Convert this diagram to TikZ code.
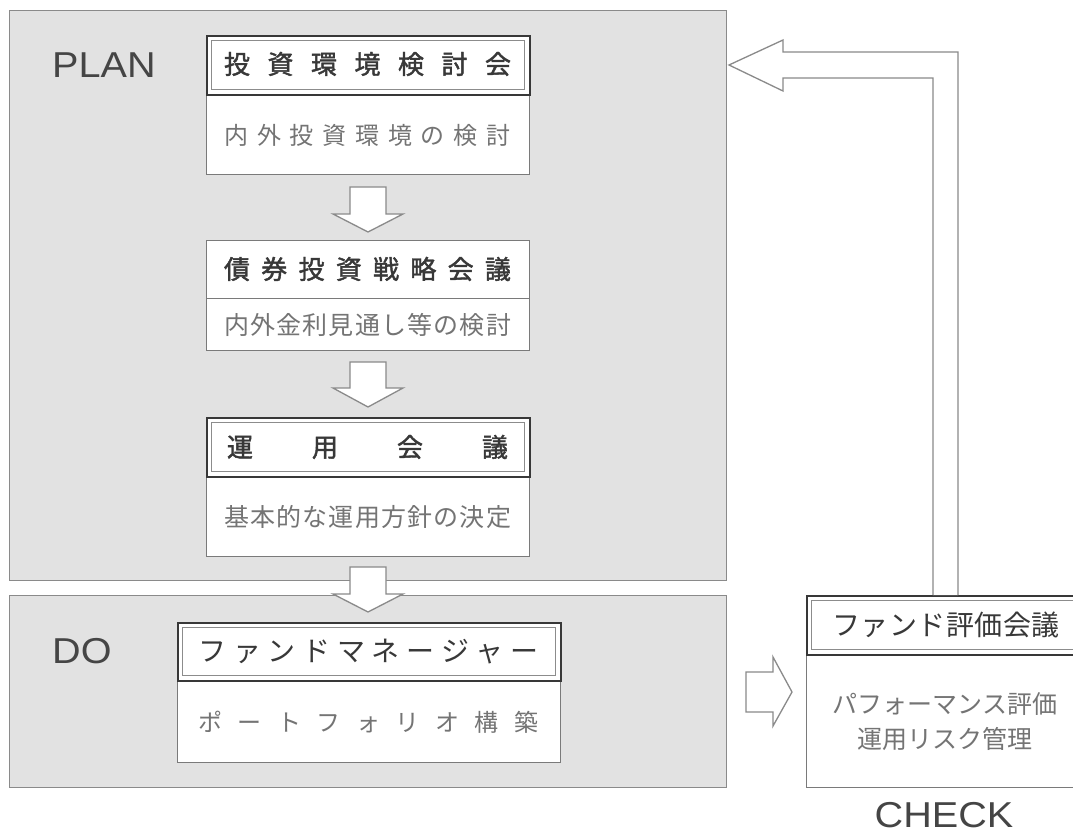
\documentclass[tikz,border=0pt]{standalone}
\usepackage{fontspec}
\setmainfont{Liberation Sans}
\newfontfamily\lbl[FakeStretch=1.1]{Liberation Sans}
\newfontfamily\jp{Noto Sans CJK JP}
\newfontfamily\jpb[FakeBold=1.6]{Noto Sans CJK JP}
\definecolor{panelfill}{HTML}{E2E2E2}
\definecolor{panelline}{HTML}{8A8A8A}
\definecolor{boxline}{HTML}{7A7A7A}
\definecolor{dark}{HTML}{383838}
\definecolor{innerline}{HTML}{8C8C8C}
\definecolor{desc}{HTML}{747474}
\definecolor{label}{HTML}{454545}
\newcommand\spread[2]{\makebox[#1]{#2}}
\tikzset{
  panel/.style={draw=panelline, fill=panelfill, line width=1.4pt, inner sep=0pt, anchor=north west},
  body/.style={draw=boxline, fill=white, line width=1.2pt, inner sep=0pt, anchor=north west},
  titleouter/.style={draw=dark, line width=2.4pt, inner sep=0pt, anchor=north west},
  titleinner/.style={draw=innerline, line width=0.9pt},
  plainband/.style={draw=boxline, line width=1.2pt, inner sep=0pt, anchor=north west},
  blockarrow/.style={draw=panelline, fill=white, line width=1.3pt, line join=miter},
  phase/.style={inner sep=0pt, text=label, font=\lbl\fontsize{36}{40}\selectfont},
  ttlb/.style={inner sep=0pt, text=dark, font=\jpb\fontsize{26}{30}\selectfont},
  ttl/.style={inner sep=0pt, text=dark, font=\jp\fontsize{28}{32}\selectfont},
  dsc/.style={inner sep=0pt, text=desc, font=\jp\fontsize{24}{28}\selectfont},
  dscw/.style={inner sep=0pt, text=desc, font=\jp\fontsize{25}{35}\selectfont, align=center},
}
\begin{document}
\begin{tikzpicture}[x=1pt,y=-1pt]
\useasboundingbox (0,0) rectangle (1073,834);
\clip (0,0) rectangle (1073,834);
\fill[white] (0,0) rectangle (1073,834);

% panels
\node[panel, minimum width=717pt, minimum height=570pt] (plan) at (9,10) {};
\node[panel, minimum width=717pt, minimum height=192pt] (do) at (9,595) {};

\node[phase, anchor=west] (planlbl) at (52,65) {PLAN};
\node[phase, anchor=west] (dolbl) at (52,651) {DO};

% box 1
\node[body, minimum width=323pt, minimum height=139pt] (b1) at (206,35) {};
\node[titleouter, minimum width=323pt, minimum height=59pt] (t1) at (206,35) {};
\draw[titleinner] (211,40) rectangle (524,89);
\node[ttlb] (t1txt) at (367.5,64) {\spread{287pt}{投\hfill 資\hfill 環\hfill 境\hfill 検\hfill 討\hfill 会}};
\node[dsc] (d1txt) at (367.5,135) {\spread{286pt}{内\hfill 外\hfill 投\hfill 資\hfill 環\hfill 境\hfill の\hfill 検\hfill 討}};

% box 2
\node[body, minimum width=323pt, minimum height=110pt] (b2) at (206,240) {};
\node[plainband, minimum width=323pt, minimum height=58pt] (t2) at (206,240) {};
\node[ttlb] (t2txt) at (367.5,269) {\spread{287pt}{債\hfill 券\hfill 投\hfill 資\hfill 戦\hfill 略\hfill 会\hfill 議}};
\node[dscw] (d2txt) at (367.5,325) {\spread{287pt}{内\hfill 外\hfill 金\hfill 利\hfill 見\hfill 通\hfill し\hfill 等\hfill の\hfill 検\hfill 討}};

% box 3
\node[body, minimum width=323pt, minimum height=139pt] (b3) at (206,417) {};
\node[titleouter, minimum width=323pt, minimum height=59pt] (t3) at (206,417) {};
\draw[titleinner] (211,422) rectangle (524,471);
\node[ttlb] (t3txt) at (367.5,447) {\spread{281pt}{運\hfill 用\hfill 会\hfill 議}};
\node[dscw] (d3txt) at (367.5,517) {\spread{287pt}{基\hfill 本\hfill 的\hfill な\hfill 運\hfill 用\hfill 方\hfill 針\hfill の\hfill 決\hfill 定}};

% box 4
\node[body, minimum width=383pt, minimum height=140pt] (b4) at (177,622) {};
\node[titleouter, minimum width=383pt, minimum height=58pt] (t4) at (177,622) {};
\draw[titleinner] (182,627) rectangle (555,675);
\node[ttl] (t4txt) at (368.5,652) {\spread{340pt}{フ\hfill ァ\hfill ン\hfill ド\hfill マ\hfill ネ\hfill ー\hfill ジ\hfill ャ\hfill ー}};
\node[dsc] (d4txt) at (368.5,722) {\spread{340pt}{ポ\hfill ー\hfill ト\hfill フ\hfill ォ\hfill リ\hfill オ\hfill 構\hfill 築}};

% check box
\node[body, minimum width=279pt, minimum height=192pt] (b5) at (806,595) {};
\node[titleouter, minimum width=279pt, minimum height=59pt] (t5) at (806,595) {};
\draw[titleinner] (811,600) rectangle (1080,649);
\node[ttl] (t5txt) at (946,625) {\spread{228pt}{フ\hfill ァ\hfill ン\hfill ド\hfill 評\hfill 価\hfill 会\hfill 議}};
\node[dscw] (d5txt) at (945,722) {パフォーマンス評価\\運用リスク管理};
\node[phase] (checklbl) at (944,815) {CHECK};

% down arrows
\draw[blockarrow] (350,187) -- (386,187) -- (386,214) -- (403,214) -- (368,232) -- (333,214) -- (350,214) -- cycle;
\draw[blockarrow] (350,362) -- (386,362) -- (386,388) -- (403,388) -- (368,407) -- (333,388) -- (350,388) -- cycle;
\draw[blockarrow] (350,567) -- (386,567) -- (386,594) -- (403,594) -- (368,612) -- (333,594) -- (350,594) -- cycle;

% right arrow DO -> CHECK
\draw[blockarrow] (746,672) -- (773,672) -- (773,657) -- (792,692) -- (773,726) -- (773,712) -- (746,712) -- cycle;

% feedback arrow CHECK -> PLAN
\filldraw[blockarrow] (933,595) -- (933,78) -- (783,78) -- (783,91) -- (729,65) -- (783,40) -- (783,52) -- (958,52) -- (958,595);
\end{tikzpicture}
\end{document}
